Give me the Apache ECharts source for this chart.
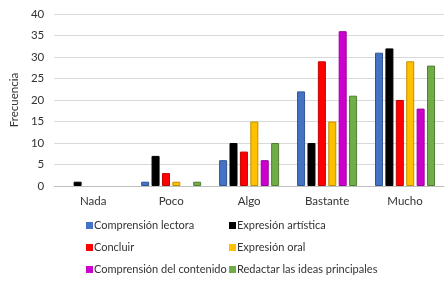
<!DOCTYPE html>
<html>
<head>
<meta charset="utf-8">
<script src="https://cdn.jsdelivr.net/npm/echarts@6/dist/echarts.min.js"></script>
<style>
html, body { margin: 0; padding: 0; background: #fff; }
#main { width: 448px; height: 282px; }
</style>
</head>
<body>
<div id="main"></div>
<script>
// categorias y series
var categorias = ['Nada', 'Poco', 'Algo', 'Bastante', 'Mucho'];
var nombres = ['Comprensión lectora', 'Expresión artística', 'Concluir', 'Expresión oral', 'Comprensión del contenido', 'Redactar las ideas principales'];
var comprensionLectora = [0, 1, 6, 22, 31];
var expresionArtistica = [1, 7, 10, 10, 32];
var concluir = [0, 3, 8, 29, 20];
var expresionOral = [0, 1, 15, 15, 29];
var comprensionContenido = [0, 0, 6, 36, 18];
var redactarIdeas = [0, 1, 10, 21, 28];
var yTicks = [0, 5, 10, 15, 20, 25, 30, 35, 40];

var colores = ['#4472C4', '#000000', '#FF0000', '#FFC000', '#CC00CC', '#70AD47'];
var bordes = ['#2F5597', '#000000', '#C00000', '#BF9000', '#990099', '#507E32'];
var valores = [comprensionLectora, expresionArtistica, concluir, expresionOral, comprensionContenido, redactarIdeas];

var myCharts = echarts.init(document.getElementById('main'));
var serieList = [];
for (let i = 0; i < nombres.length; i++) {
	serieList.push({
		name: nombres[i],
		type: 'bar',
		barGap: '30%',
		barCategoryGap: '23%',
		itemStyle: {
			color: colores[i],
			borderColor: bordes[i],
			borderWidth: 1
		},
		// sin borde para los ceros, asi no se ve nada
		data: valores[i].map(function (v) {
			return v === 0 ? { value: v, itemStyle: { borderWidth: 0 } } : v;
		}),
		animation: false
	});
}

var fuente = 'Lato';
var legendBase = {
	orient: 'vertical',
	itemWidth: 7,
	itemHeight: 7,
	itemGap: 11,
	icon: 'rect',
	itemStyle: { borderWidth: 0 },
	textStyle: { fontFamily: fuente, fontSize: 11, color: '#333', padding: [0, 0, 0, -4] }
};

var option = {
	color: colores,
	legend: [
		Object.assign({}, legendBase, { left: 81, top: 215, data: [nombres[0], nombres[2], nombres[4]] }),
		Object.assign({}, legendBase, { left: 224, top: 215, data: [nombres[1], nombres[3], nombres[5]] })
	],
	grid: { left: 46, right: 4, top: 14, bottom: 96 },
	xAxis: {
		type: 'category',
		data: categorias,
		axisTick: { show: false },
		axisLine: { lineStyle: { color: '#bfbfbf' } },
		axisLabel: { fontFamily: fuente, fontSize: 11.5, color: '#333', margin: 9 }
	},
	yAxis: {
		type: 'value',
		name: 'Frecuencia',
		nameLocation: 'middle',
		nameGap: 26,
		nameTextStyle: { fontFamily: fuente, fontSize: 11.5, color: '#333' },
		min: yTicks[0],
		max: yTicks[yTicks.length - 1],
		interval: 5,
		axisLine: { show: false },
		axisTick: { show: false },
		axisLabel: { fontFamily: fuente, fontSize: 11.5, color: '#333', margin: 10 },
		splitLine: { lineStyle: { color: '#d9d9d9', width: 1 } }
	},
	series: serieList
};
myCharts.setOption(option);
</script>
</body>
</html>
